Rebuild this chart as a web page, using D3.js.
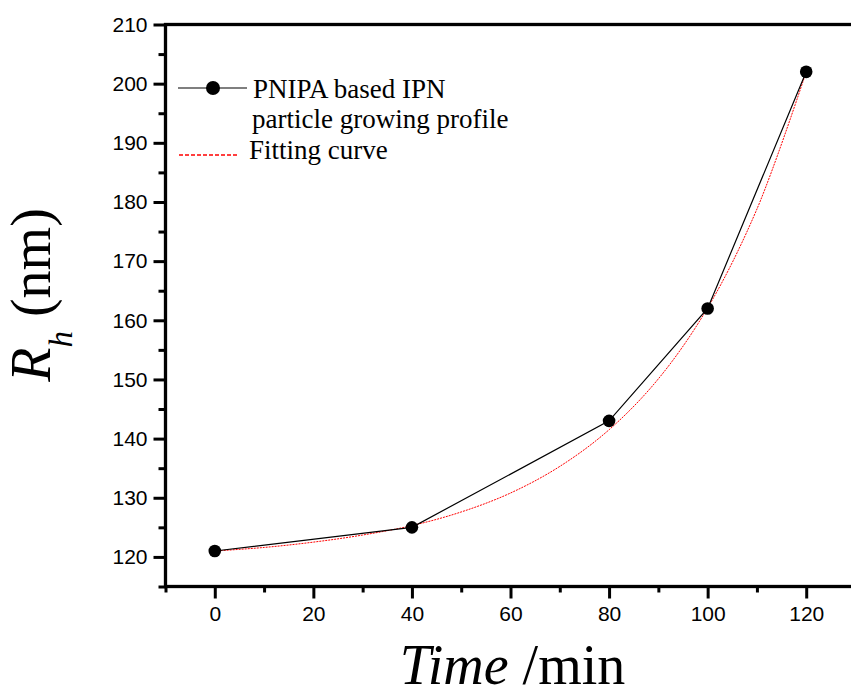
<!DOCTYPE html>
<html>
<head>
<meta charset="utf-8">
<script src="https://cdn.jsdelivr.net/npm/d3@7"></script>
<style>
  html, body { margin: 0; padding: 0; background: #fff; }
  svg { display: block; }
  .serif { font-family: "Liberation Serif", "Times New Roman", Tinos, Times, serif; }
  .sans { font-family: "Liberation Sans", Arial, Arimo, Helvetica, sans-serif; }
</style>
</head>
<body>
<svg id="chart" width="851" height="696"></svg>
<script>
// ---- data ----
const times = [0, 40, 80, 100, 120];
const radii = [121, 125, 143, 162, 202];
const fitTimes = [0, 10, 20, 30, 40, 50, 60, 70, 80, 90, 100, 110, 120];
const fitRadii = [121.0, 121.6, 122.5, 123.7, 125.3, 127.6, 130.8, 135.3, 141.5, 150.1, 162.1, 178.8, 202.0];
const xMajorTicks = [0, 20, 40, 60, 80, 100, 120];
const xMinorTicks = [-10, 10, 30, 50, 70, 90, 110, 130];
const yMajorTicks = [120, 130, 140, 150, 160, 170, 180, 190, 200, 210];
const yMinorTicks = [115, 125, 135, 145, 155, 165, 175, 185, 195, 205];
const legendLabels = ["PNIPA based IPN", "particle growing profile", "Fitting curve"];

// ---- layout ----
const svg = d3.select("#chart");
const mLeft = 165.5, mRight = 855.5, mTop = 24.5, mBottom = 586.5;
const x = d3.scaleLinear().domain([-10, 130]).range([mLeft, mRight]);
const y = d3.scaleLinear().domain([115, 210]).range([mBottom, mTop]);

// axes
const xAxis = d3.axisBottom(x).tickValues(xMajorTicks).tickSize(12).tickPadding(8).tickSizeOuter(0);
const xAxisMinor = d3.axisBottom(x).tickValues(xMinorTicks).tickSize(6).tickFormat("").tickSizeOuter(0);
const yAxis = d3.axisLeft(y).tickValues(yMajorTicks).tickSize(12).tickPadding(6).tickSizeOuter(0);
const yAxisMinor = d3.axisLeft(y).tickValues(yMinorTicks).tickSize(7).tickFormat("").tickSizeOuter(0);

function styleAxis(g) {
  g.attr("font-family", null).attr("font-size", null);
  g.select(".domain").remove();
  g.selectAll(".tick line").attr("stroke", "#000").attr("stroke-width", 3);
  g.selectAll(".tick text").attr("fill", "#000").attr("class", "sans").style("font-size", "21px");
}

svg.append("g").attr("transform", `translate(0,${mBottom})`).call(xAxis).call(styleAxis);
svg.append("g").attr("transform", `translate(0,${mBottom})`).call(xAxisMinor).call(styleAxis);
svg.append("g").attr("transform", `translate(${mLeft},0)`).call(yAxis).call(styleAxis);
svg.append("g").attr("transform", `translate(${mLeft},0)`).call(yAxisMinor).call(styleAxis);

// frame
svg.append("rect")
  .attr("x", mLeft).attr("y", mTop)
  .attr("width", mRight - mLeft).attr("height", mBottom - mTop)
  .attr("fill", "none").attr("stroke", "#000").attr("stroke-width", 3.3);

// fit curve (red dotted)
const fitData = fitTimes.map((t, i) => [t, fitRadii[i]]);
svg.append("path")
  .datum(fitData)
  .attr("fill", "none")
  .attr("stroke", "#ff0000")
  .attr("stroke-width", 1)
  .attr("stroke-dasharray", "2,1")
  .attr("d", d3.line().x(d => x(d[0])).y(d => y(d[1])).curve(d3.curveCatmullRom.alpha(0.5)));

// data line
const data = times.map((t, i) => [t, radii[i]]);
svg.append("path")
  .datum(data)
  .attr("fill", "none")
  .attr("stroke", "#000")
  .attr("stroke-width", 1.2)
  .attr("d", d3.line().x(d => x(d[0])).y(d => y(d[1])));

svg.append("g").selectAll("circle")
  .data(data).join("circle")
  .attr("cx", d => x(d[0])).attr("cy", d => y(d[1]))
  .attr("r", 6.3).attr("fill", "#000");

// legend
const lg = svg.append("g");
lg.append("line").attr("x1", 178).attr("x2", 247).attr("y1", 88).attr("y2", 88)
  .attr("stroke", "#000").attr("stroke-width", 1.2);
lg.append("circle").attr("cx", 213).attr("cy", 88).attr("r", 7).attr("fill", "#000");
lg.append("line").attr("x1", 179).attr("x2", 239).attr("y1", 155).attr("y2", 155)
  .attr("stroke", "#ff0000").attr("stroke-width", 1.5).attr("stroke-dasharray", "4,2");
const legendPos = [[253, 98], [252, 128], [249, 159]];
lg.selectAll("text").data(legendLabels).join("text")
  .attr("class", "serif")
  .attr("x", (d, i) => legendPos[i][0]).attr("y", (d, i) => legendPos[i][1])
  .style("font-size", "27px").attr("fill", "#000")
  .text(d => d);

// x title
const xt = svg.append("text")
  .attr("class", "serif")
  .attr("x", (mLeft + mRight) / 2 + 2).attr("y", 684)
  .attr("text-anchor", "middle")
  .style("font-size", "56px").attr("fill", "#000");
xt.append("tspan").style("font-style", "italic").text("Time");
xt.append("tspan").text(" /min");

// y title
const yt = svg.append("text")
  .attr("class", "serif")
  .attr("transform", "translate(50,295) rotate(-90)")
  .attr("text-anchor", "middle")
  .style("font-size", "56px").attr("fill", "#000");
yt.append("tspan").style("font-style", "italic").text("R");
yt.append("tspan").style("font-style", "italic").style("font-size", "33px").attr("dy", 22).text("h");
yt.append("tspan").attr("dy", -22).text(" (nm)");
</script>
</body>
</html>
